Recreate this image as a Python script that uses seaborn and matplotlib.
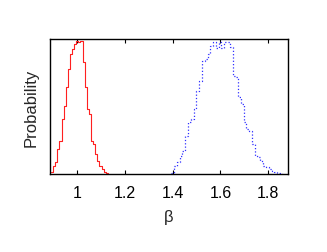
import numpy as np
import pandas as pd
import matplotlib
matplotlib.use("Agg")
import matplotlib.pyplot as plt
import seaborn as sns

# Red histogram (beta ~ 1)
red_start = 0.892
red_width = 0.0088
red_heights = [0.012, 0.062, 0.086, 0.185, 0.247, 0.407, 0.506, 0.642, 0.778, 0.889,
               0.926, 0.963, 0.988, 0.975, 0.988, 0.827, 0.642, 0.481, 0.444, 0.247,
               0.222, 0.148, 0.099, 0.062, 0.037, 0.012, 0.005]

# Blue histogram (beta ~ 1.6)
blue_start = 1.395
blue_width = 0.01163
blue_heights = [0.007, 0.057, 0.086, 0.136, 0.173, 0.284, 0.383, 0.407, 0.481, 0.617,
                0.691, 0.840, 0.852, 0.889, 0.951, 0.980, 0.931, 0.980, 0.931, 0.980,
                0.980, 0.938, 0.728, 0.716, 0.568, 0.519, 0.383, 0.333, 0.321, 0.222,
                0.136, 0.123, 0.099, 0.062, 0.049, 0.037, 0.025, 0.017, 0.007, 0.002]

xticks = [1.0, 1.2, 1.4, 1.6, 1.8]
xticklabels = ["1", "1.2", "1.4", "1.6", "1.8"]

sns.set_theme(style="ticks")
plt.rcParams['font.family'] = ['Liberation Sans', 'DejaVu Sans']

fig = plt.figure(figsize=(3.27, 2.53), dpi=100)
ax = fig.add_axes([0.153, 0.308, 0.728, 0.534])

def make(start, width, heights):
    n = len(heights)
    edges = start + width * np.arange(n + 1)
    centers = (edges[:-1] + edges[1:]) / 2
    return pd.DataFrame({"x": centers, "w": heights}), (float(edges[0]), float(edges[-1]))

dr, rr = make(red_start, red_width, red_heights)
db, rb = make(blue_start, blue_width, blue_heights)

sns.histplot(data=dr, x="x", weights="w", binwidth=red_width, binrange=rr,
             element="step", fill=False, color="#ff2020", linewidth=0.8, ax=ax)
sns.histplot(data=db, x="x", weights="w", binwidth=blue_width, binrange=rb,
             element="step", fill=False, color="#3030ff", linewidth=0.9,
             linestyle=":", ax=ax)

ax.set_xlim(0.888, 1.883)
ax.set_ylim(0, 1.0)
ax.set_xticks(xticks)
ax.set_xticklabels(xticklabels)
ax.set_yticks([])
ax.tick_params(axis="x", direction="in", length=3, width=0.8, top=True,
               labelsize=11.5, pad=8, colors="black")
for s in ax.spines.values():
    s.set_visible(True)
    s.set_linewidth(1.0)
    s.set_color("black")
ax.set_xlabel("β", fontsize=12, labelpad=6)
ax.set_ylabel("Probability", fontsize=12, labelpad=8)

fig.savefig("out.png", dpi=100)
